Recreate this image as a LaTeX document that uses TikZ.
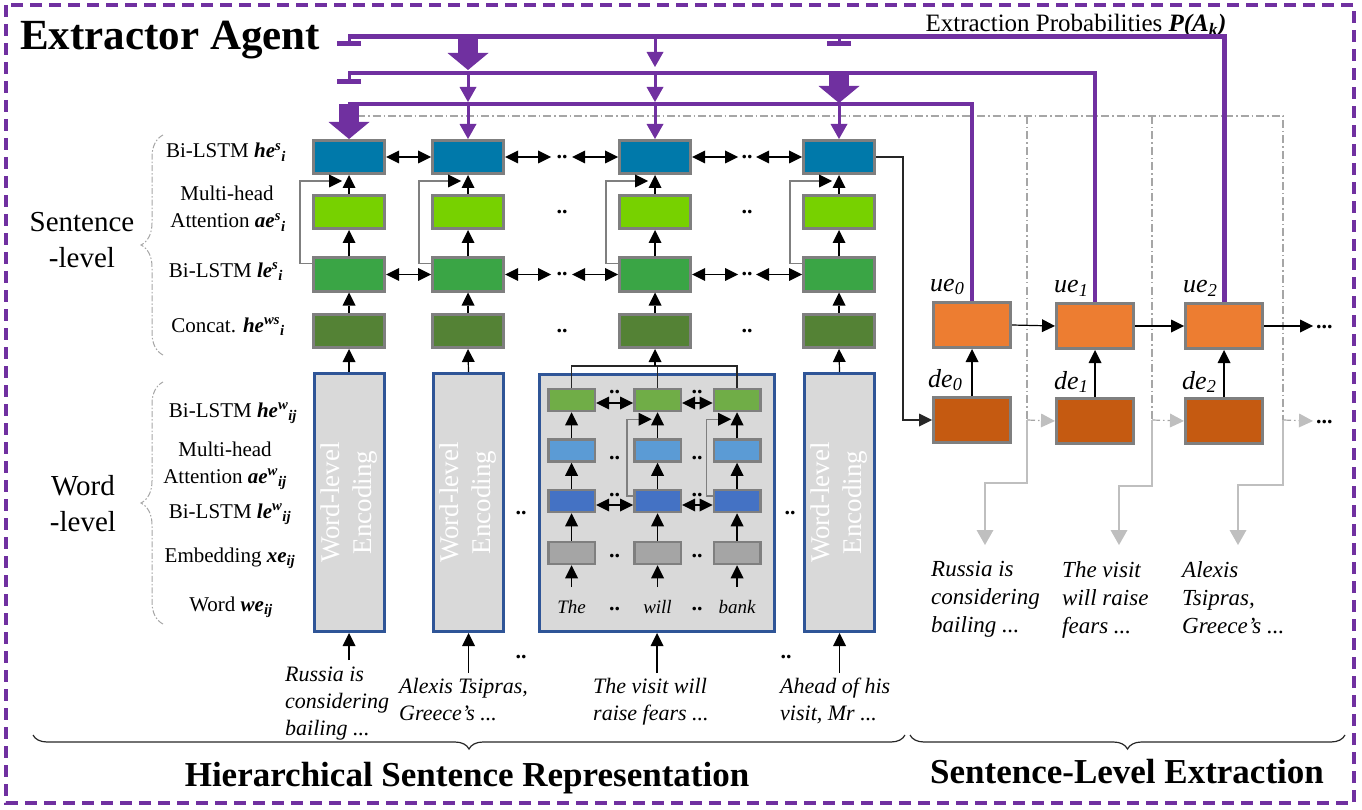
\documentclass[tikz,border=0pt]{standalone}
\usepackage{fontspec}
\setmainfont{Liberation Serif}
\usetikzlibrary{arrows.meta,decorations.pathreplacing}
\definecolor{purp}{HTML}{7030A0}
\definecolor{cHe}{HTML}{0079AA}
\definecolor{cAe}{HTML}{77D100}
\definecolor{cLe}{HTML}{3AA545}
\definecolor{cCc}{HTML}{548235}
\definecolor{boxgray}{HTML}{7F7F7F}
\definecolor{wfill}{HTML}{D9D9D9}
\definecolor{wblue}{HTML}{2F5597}
\definecolor{iG}{HTML}{70AD47}
\definecolor{iLB}{HTML}{5B9BD5}
\definecolor{iB}{HTML}{4472C4}
\definecolor{iGr}{HTML}{A5A5A5}
\definecolor{cUe}{HTML}{ED7D31}
\definecolor{cDe}{HTML}{C55A11}
\definecolor{ddgray}{HTML}{A6A6A6}
\definecolor{lgray}{HTML}{BFBFBF}
\definecolor{skipgray}{HTML}{7F7F7F}
\definecolor{linek}{HTML}{262626}
\newcommand{\bi}[1]{\textbf{\textit{#1}}}
\newcommand{\fsz}[2]{\fontsize{#1}{#2}\selectfont}
\newcommand{\sps}[2]{\textsuperscript{\bi{#1}}\textsubscript{\bi{#2}}}
\newcommand{\sbs}[1]{\textsubscript{\bi{#1}}}
\tikzset{
  >={Triangle[length=13pt,width=13pt,line width=0pt]},
  arr/.style={->, draw=black, line width=1.2pt},
  darr/.style={<->, draw=black, line width=1.2pt},
  skipln/.style={draw=skipgray, line width=1.5pt, -{Triangle[length=13pt,width=13pt,line width=0pt,black]}},
  sbox/.style={draw=boxgray, line width=3pt, minimum width=71pt, minimum height=33pt, inner sep=0pt},
  wbox/.style={draw=wblue, fill=wfill, line width=3pt, minimum width=70pt, minimum height=258pt, inner sep=0pt},
  ibox/.style={draw=boxgray, line width=2.5pt, minimum width=46.5pt, minimum height=22pt, inner sep=0pt},
  obox/.style={draw=boxgray, line width=3pt, minimum width=77pt, minimum height=45pt, inner sep=0pt},
  lbl/.style={font=\fsz{21}{24}, anchor=base, inner sep=0pt},
  biglbl/.style={font=\fsz{29}{29}, anchor=base, inner sep=0pt},
  dotsty/.style={font=\bfseries\fsz{22}{22}, anchor=base, inner sep=0pt},
  pline/.style={draw=purp},
  parr/.style={draw=purp, line width=3pt, -{Triangle[length=15pt,width=17pt,line width=0pt]}},
  pbig/.style={draw=purp, line width=20pt, -{Triangle[length=17pt,width=41pt,line width=0pt]}},
  ptee/.style={draw=purp, line width=3pt, -{Bar[width=24pt,line width=4.5pt]}},
  ddot/.style={draw=ddgray, line width=1.2pt, dash pattern=on 8pt off 3pt on 1.5pt off 3pt},
  ddarr/.style={ddot, -{Triangle[length=14pt,width=14pt,line width=0pt,lgray]}},
  lgarr/.style={draw=lgray, line width=1.5pt, -{Triangle[length=15pt,width=17pt,line width=0pt]}},
  wtxt/.style={font=\itshape\fsz{22}{27}, align=left, anchor=north west, inner sep=0pt},
  rtxt/.style={font=\itshape\fsz{23}{28}, align=left, anchor=north west, inner sep=0pt},
  olbl/.style={font=\itshape\fsz{26}{26}, anchor=base west, inner sep=0pt},
  brk/.style={draw=ddgray, line width=1pt, dash pattern=on 6pt off 2pt on 1.5pt off 2pt, decorate, decoration={brace, amplitude=22pt}},
  bbrace/.style={draw=linek, line width=1.2pt, decorate, decoration={brace, mirror, amplitude=14pt}}
}
\begin{document}
\begin{tikzpicture}[x=1pt,y=-1pt,line join=miter]
\useasboundingbox (0,0) rectangle (1362,810);
\draw[purp, line width=3.5pt, dash pattern=on 12pt off 7pt] (6,5) rectangle (1354,803);

% titles
\node[font=\bfseries\fsz{43}{43}, anchor=base west, inner sep=0pt] (title) at (20,50) {Extractor Agent};
\node[font=\fsz{25}{25}, anchor=base, inner sep=0pt] (ptitle) at (1076,32) {Extraction Probabilities \bi{P(A\textsubscript{k})}};
\node[font=\bfseries\fsz{35}{35}, anchor=base, inner sep=0pt] (t1) at (467,786) {Hierarchical Sentence Representation};
\node[font=\bfseries\fsz{35}{35}, anchor=base, inner sep=0pt] (t2) at (1127,783) {Sentence-Level Extraction};
\draw[bbrace] (33,735) -- (905,735);
\draw[bbrace] (910,735) -- (1345,735);

% left labels
\node[biglbl] at (82,232) {Sentence};
\node[biglbl] at (82,268) {-level};
\node[biglbl] at (83,495) {Word};
\node[biglbl] at (83,531) {-level};
\draw[brk] (163,355) -- (163,135);
\draw[brk] (163,624) -- (163,382);
\node[lbl] at (226,158) {Bi-LSTM \bi{he}\sps{s}{i}};
\node[lbl] at (227,201) {Multi-head};
\node[lbl] at (228,228) {Attention \bi{ae}\sps{s}{i}};
\node[lbl] at (226,277) {Bi-LSTM \bi{le}\sps{s}{i}};
\node[lbl] at (228,332) {Concat. \bi{he}\sps{ws}{i}};
\node[lbl] at (233,417) {Bi-LSTM \bi{he}\sps{w}{ij}};
\node[lbl] at (225,456) {Multi-head};
\node[lbl] at (225,483) {Attention \bi{ae}\sps{w}{ij}};
\node[lbl] at (230,518) {Bi-LSTM \bi{le}\sps{w}{ij}};
\node[lbl] at (230,562) {Embedding \bi{xe}\sbs{ij}};
\node[lbl] at (231,611) {Word \bi{we}\sbs{ij}};

% gray dash-dot routing (behind)
\coordinate (g0) at (357,116);
\coordinate (g3) at (1283,116);
\coordinate (h1) at (1027,420);
\coordinate (h2) at (1152,420);
\coordinate (h3) at (1283,420);
\draw[ddot] (g0) -- (g3) -- (h3);
\draw[ddot] (h1 |- g0) -- (h1);
\draw[ddot] (h2 |- g0) -- (h2);

% sentence-level columns
\foreach \i/\x in {1/349,2/468,3/655,4/839}{
  \node[sbox,fill=cHe] (he\i) at (\x,157) {};
  \node[sbox,fill=cAe] (ae\i) at (\x,212) {};
  \node[sbox,fill=cLe] (le\i) at (\x,274.5) {};
  \node[sbox,fill=cCc] (cc\i) at (\x,331) {};
  \draw[arr] (cc\i.north) -- (le\i.south);
  \draw[arr] (le\i.north) -- (ae\i.south);
  \draw[arr] (ae\i.north) -- (he\i.south);
  \draw[skipln] ([yshift=11pt]le\i.west) -- ++(-12,0) |- ([xshift=-7pt,yshift=-6pt]he\i.south);
}
\foreach \r/\y in {he/157,le/274.5}{
  \draw[darr] (\r1.east) -- (\r2.west);
  \draw[darr] (\r2.east) -- ++(46,0);
  \draw[darr] (\r3.west) -- ++(-46,0);
  \draw[darr] (\r3.east) -- ++(46,0);
  \draw[darr] (\r4.west) -- ++(-46,0);
}
\foreach \y in {157,212,274.5,331}{
  \node[dotsty] at (562,\y+1.5) {..};
  \node[dotsty] at (747,\y+1.5) {..};
}

% word-level boxes
\node[wbox] (w1) at (349,502.5) {};
\node[wbox] (w2) at (468.5,502.5) {};
\node[wbox] (w4) at (839.5,502.5) {};
\foreach \i in {1,2,4}{
  \node[rotate=90, text=white, font=\fsz{27}{32}, align=center] at (w\i) {Word-level\\Encoding};
}
\node[wbox, minimum width=235pt, minimum height=257pt] (w3) at (657,503) {};
\foreach \c/\x in {A/571.5,B/657.5,C/737}{
  \node[ibox,fill=iG] (g\c) at (\x,400) {};
  \node[ibox,fill=iLB] (l\c) at (\x,450.5) {};
  \node[ibox,fill=iB] (b\c) at (\x,501) {};
  \node[ibox,fill=iGr] (r\c) at (\x,553) {};
  \draw[arr] (r\c.north) -- (b\c.south);
  \draw[arr] (b\c.north) -- (l\c.south);
  \draw[arr] (l\c.north) -- (g\c.south);
  \coordinate (u\c) at (\x,587);
  \draw[arr] (u\c) -- (r\c.south);
}
\node[font=\itshape\fsz{19}{19}, anchor=base, inner sep=0pt] (tA) at (571.5,613) {The};
\node[font=\itshape\fsz{19}{19}, anchor=base, inner sep=0pt] (tB) at (657.5,613) {will};
\node[font=\itshape\fsz{19}{19}, anchor=base, inner sep=0pt] (tC) at (737,613) {bank};
\draw[darr] ([yshift=-3pt]gA.east) -- ([yshift=-3pt]gB.west);
\draw[darr] ([yshift=-3pt]gB.east) -- ([yshift=-3pt]gC.west);
\draw[darr] ([yshift=-4pt]bA.east) -- ([yshift=-4pt]bB.west);
\draw[darr] ([yshift=-4pt]bB.east) -- ([yshift=-4pt]bC.west);
\foreach \y in {393.5,459.5,496.5,557,610}{
  \node[dotsty] at (614.5,\y) {..};
  \node[dotsty] at (697,\y) {..};
}
\draw[skipln] ([yshift=5pt]bB.west) -- ++(-6,0) |- ([xshift=-6pt,yshift=-7pt]gB.south);
\draw[skipln] ([yshift=5pt]bC.west) -- ++(-6,0) |- ([xshift=-6pt,yshift=-7pt]gC.south);
\coordinate (J) at (655,366);
\draw[draw=linek, line width=1.2pt] (gA.north) |- (J) -| (gC.north);
\draw[draw=linek, line width=1.2pt] (gB.north) -- (gB.north |- J);
\draw[arr] (J) -- (cc3.south);
\draw[arr] (w1.north) -- (cc1.south);
\draw[arr] (w2.north) -- (cc2.south);
\draw[arr] (w4.north) -- (cc4.south);
\node[dotsty] at (521,514) {..};
\node[dotsty] at (790,514) {..};
\node[dotsty] at (521,658.5) {..};
\node[dotsty] at (786,658.5) {..};

% input sentences
\node[wtxt] (b1) at (285,667) {Russia is\\considering\\bailing ...};
\node[wtxt] (b2) at (399,678) {Alexis Tsipras,\\Greece’s ...};
\node[wtxt] (b3) at (593,678) {The visit will\\raise fears ...};
\node[wtxt] (b4) at (780,678) {Ahead of his\\visit, Mr ...};
\coordinate (s1) at (349,660);
\coordinate (s2) at (468.5,673);
\coordinate (s3) at (657,673);
\coordinate (s4) at (839.5,673);
\draw[arr] (s1) -- (w1.south);
\draw[arr] (s2) -- (w2.south);
\draw[arr] (s3) -- (w3.south);
\draw[arr] (s4) -- (w4.south);

% extraction part
\node[obox,fill=cUe] (ue0) at (972,325) {};
\node[obox,fill=cUe] (ue1) at (1095,326) {};
\node[obox,fill=cUe] (ue2) at (1224,326) {};
\node[obox,fill=cDe] (de0) at (972,420) {};
\node[obox,fill=cDe] (de1) at (1095,421) {};
\node[obox,fill=cDe] (de2) at (1224,421) {};
\node[olbl] at (930,291) {ue\textsubscript{0}};
\node[olbl] at (1054,293) {ue\textsubscript{1}};
\node[olbl] at (1183,293) {ue\textsubscript{2}};
\node[olbl] at (928,387) {de\textsubscript{0}};
\node[olbl] at (1054,389) {de\textsubscript{1}};
\node[olbl] at (1182,389) {de\textsubscript{2}};
\foreach \i in {0,1,2}{ \draw[arr] (de\i.north) -- (ue\i.south); }
\draw[arr] (ue0.east) -- (ue1.west);
\draw[arr] (ue1.east) -- (ue2.west);
\coordinate (uE) at (1313,326);
\draw[arr] (ue2.east) -- (uE);
\node[dotsty, anchor=base west] at (1316,328) {...};
\coordinate (k1) at (903,157);
\draw[arr, draw=linek] (he4.east) -- (k1) |- (de0.west);
\draw[ddarr] (h1) -- (de1.west);
\draw[ddarr] (h2) -- (de2.west);
\coordinate (hE) at (1313,421);
\draw[ddarr] (h3) -- (hE);
\node[dotsty, anchor=base west] at (1316,423) {...};
\coordinate (o1) at (985,545);
\coordinate (o2) at (1119,545);
\coordinate (o3) at (1238,545);
\draw[lgarr] (h1) -- ++(0,63) -| (o1);
\draw[lgarr] (h2) -- ++(0,66) -| (o2);
\draw[lgarr] (h3) -- ++(0,65) -| (o3);
\node[rtxt] (r1) at (931,561) {Russia is\\considering\\bailing ...};
\node[rtxt] (r2) at (1062,561) {The visit\\will raise\\fears ...};
\node[rtxt] (r3) at (1182,561) {Alexis\\Tsipras,\\Greece’s ...};

% purple extraction probabilities
\coordinate (pA) at (348,37);
\coordinate (pB) at (348,73);
\coordinate (pC) at (348,104);
\coordinate (teeA) at (0,46);
\coordinate (tipAbig) at (0,70);
\coordinate (tipAsm) at (0,67);
\coordinate (teeB) at (0,84);
\coordinate (tipB) at (0,102);
\coordinate (tipBbig) at (0,103);
\draw[pline, line width=5pt] (ue2.north) |- (pA);
\draw[pline, line width=4.5pt] (ue1.north) |- (pB);
\draw[pline, line width=4pt] (ue0.north) |- (pC);
\draw[ptee] (he1.north |- pA) -- (he1.north |- teeA);
\draw[pbig] (he2.north |- pA) -- (he2.north |- tipAbig);
\draw[parr] (he3.north |- pA) -- (he3.north |- tipAsm);
\draw[ptee] (he4.north |- pA) -- (he4.north |- teeA);
\draw[ptee] (he1.north |- pB) -- (he1.north |- teeB);
\draw[parr] (he2.north |- pB) -- (he2.north |- tipB);
\draw[parr] (he3.north |- pB) -- (he3.north |- tipB);
\draw[pbig] (he4.north |- pB) -- (he4.north |- tipBbig);
\draw[pbig] (he1.north |- pC) -- (he1.north);
\draw[parr] (he2.north |- pC) -- (he2.north);
\draw[parr] (he3.north |- pC) -- (he3.north);
\draw[parr] (he4.north |- pC) -- (he4.north);
\end{tikzpicture}
\end{document}
